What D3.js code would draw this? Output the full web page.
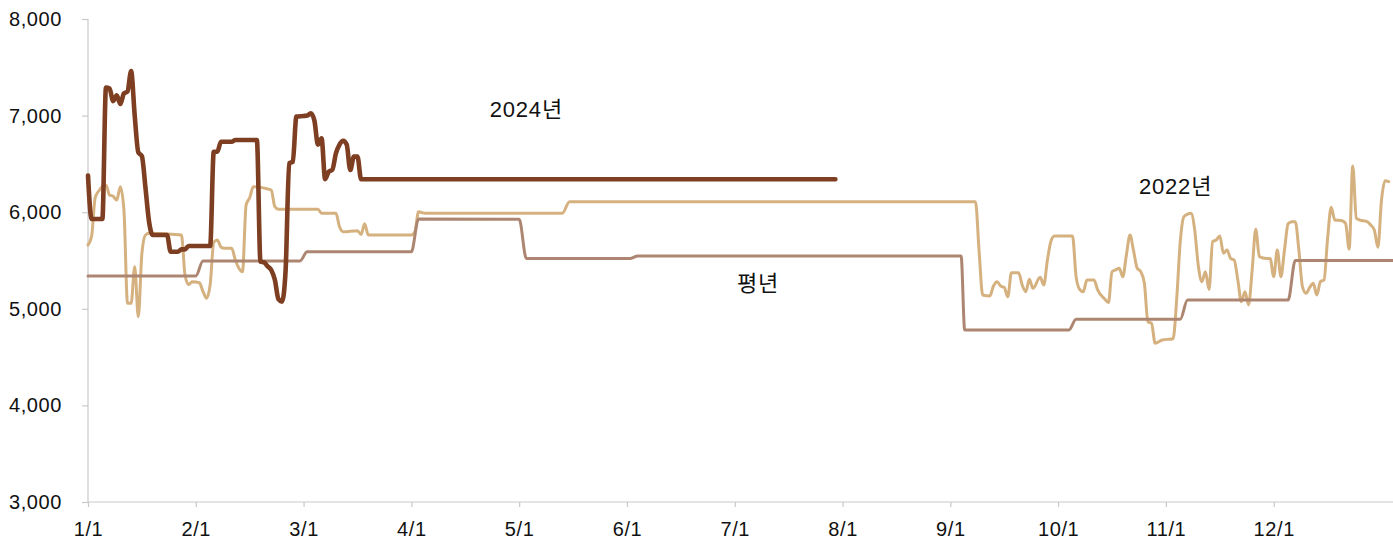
<!DOCTYPE html>
<html>
<head>
<meta charset="utf-8">
<script src="https://cdn.jsdelivr.net/npm/d3@7"></script>
<style>
  body { margin: 0; background: #fff; }
  text { font-family: "Liberation Sans", Arial, "Noto Sans CJK KR", sans-serif; }
</style>
</head>
<body>
<div id="chart"></div>
<script>
//Data (x = day index of the year, axis labels every 30 days)
var tickLabels = ["1/1", "2/1", "3/1", "4/1", "5/1", "6/1", "7/1", "8/1", "9/1", "10/1", "11/1", "12/1"];
var yTicks = [3000, 4000, 5000, 6000, 7000, 8000];
var seriesNames = ["2024년", "2022년", "평년"];

var days2024 = [0, 1, 4, 5, 6, 7, 8, 9, 10, 11, 12, 13, 14, 15, 16, 17, 18, 22, 23, 25, 26, 27, 28, 34, 35, 36, 37, 40, 41, 47,
  48, 49, 50, 51, 52, 53, 54, 55, 56, 57, 58, 60, 61, 62, 63, 64, 65, 66, 67, 68, 69, 70, 71, 72, 73, 74, 75, 76, 208];
var vals2024 = [6380, 5930, 5930, 7290, 7280, 7150, 7210, 7120, 7230, 7250, 7460, 7000, 6620, 6580, 6250, 5900, 5764, 5764, 5591, 5591, 5615, 5615, 5650, 5650, 6626, 6626, 6730, 6730, 6747, 6747,
  5488, 5480, 5440, 5402, 5300, 5100, 5074, 5400, 6506, 6523, 6990, 6996, 7000, 7024, 6950, 6700, 6765, 6341, 6419, 6440, 6609, 6700, 6740, 6700, 6437, 6575, 6575, 6341, 6341];

var days2022 = [0, 1, 2, 3, 5, 6, 7, 8, 9, 10, 11, 12, 13, 14, 15, 16, 17, 26, 27, 28, 29, 31, 32, 33, 34, 35, 36, 37, 38, 40,
  41, 42, 43, 44, 45, 46, 48, 50, 51, 52, 53, 64, 65, 69, 70, 71, 75, 76, 77, 78, 90, 91, 92, 93, 94, 132, 134, 247, 248, 249,
  251, 252, 253, 254, 255, 256, 257, 259, 260, 261, 262, 263, 265, 266, 267, 268, 269, 274, 275, 276, 277, 278, 280, 281, 283, 284, 285, 286, 287, 288,
  289, 290, 291, 292, 293, 294, 295, 296, 297, 299, 302, 303, 304, 305, 306, 307, 308, 309, 310, 311, 312, 313, 314, 315, 316, 317, 318, 319, 320, 321,
  322, 323, 324, 325, 326, 328, 329, 330, 331, 332, 333, 334, 335, 336, 337, 338, 339, 340, 341, 342, 343, 344, 345, 346, 347, 349, 350, 351, 352, 353,
  354, 356, 357, 358, 359, 360, 361, 362];
var vals2022 = [5660, 5750, 6150, 6220, 6281, 6178, 6165, 6126, 6264, 6023, 5057, 5057, 5436, 4918, 5574, 5764, 5781, 5764, 5350, 5250, 5281, 5270, 5180, 5109, 5250, 5690, 5712, 5640, 5626, 5626,
  5505, 5420, 5384, 6074, 6150, 6264, 6257, 6240, 6230, 6057, 6030, 6030, 5990, 5988, 5850, 5798, 5809, 5770, 5880, 5764, 5764, 5800, 6005, 5995, 5988, 5988, 6109, 6109, 5600, 5143,
  5133, 5236, 5281, 5236, 5222, 5125, 5374, 5374, 5246, 5177, 5305, 5212, 5326, 5246, 5500, 5700, 5754, 5754, 5333, 5200, 5177, 5298, 5298, 5195, 5100, 5064, 5384, 5402, 5419, 5333,
  5557, 5764, 5600, 5420, 5385, 5264, 4866, 4850, 4643, 4677, 4690, 5100, 5700, 5953, 5980, 5988, 5820, 5450, 5281, 5384, 5200, 5695, 5712, 5754, 5574, 5609, 5522, 5505, 5300, 5074,
  5177, 5040, 5400, 5823, 5540, 5522, 5522, 5333, 5609, 5333, 5609, 5880, 5902, 5902, 5609, 5229, 5160, 5220, 5264, 5143, 5281, 5298, 5729, 6050, 5919, 5912, 5885, 5619, 6478, 5937,
  5919, 5902, 5867, 5816, 5636, 6126, 6326, 6316];

var daysAvg = [0, 30, 32, 59, 61, 90, 92, 120, 122, 151, 153, 243, 244, 273, 275, 304, 306, 334, 336, 363];
var valsAvg = [5340, 5340, 5495, 5495, 5591, 5591, 5930, 5927, 5522, 5522, 5547, 5547, 4780, 4780, 4891, 4891, 5090, 5090, 5500, 5500];

//Set Margins
var margin = {top: 19, right: 0, bottom: 44, left: 88},
    width = 1393 - margin.left - margin.right,
    height = 546 - margin.top - margin.bottom;

var svg = d3.select("#chart")
  .append("svg")
    .attr("width", width + margin.left + margin.right)
    .attr("height", height + margin.top + margin.bottom)
  .append("g")
    .attr("transform", "translate(" + margin.left + "," + margin.top + ")");

//X Axis
var x = d3.scaleLinear()
  .domain([0, 363.2])
  .range([0, width]);
var xAxis = svg.append("g")
  .attr("transform", "translate(0," + height + ")")
  .call(d3.axisBottom(x)
    .tickValues(d3.range(tickLabels.length).map(function(i) { return i * 30; }))
    .tickFormat(function(d, i) { return tickLabels[i]; })
    .tickSize(5)
    .tickPadding(15));

//Y Axis
var y = d3.scaleLinear()
  .domain([3000, 8000])
  .range([height, 0]);
var yAxis = svg.append("g")
  .call(d3.axisLeft(y)
    .tickValues(yTicks)
    .tickFormat(d3.format(","))
    .tickSize(6)
    .tickPadding(20));

[xAxis, yAxis].forEach(function(a) {
  a.select(".domain").attr("stroke", "#c9c9c9").attr("stroke-width", 1.2);
  a.selectAll(".tick line").attr("stroke", "#c9c9c9").attr("stroke-width", 1.2);
  a.selectAll(".tick text").attr("fill", "#111").style("font-size", "20px").style("letter-spacing", "0.6px");
});
xAxis.select(".domain").attr("d", "M0,0H" + width);
yAxis.select(".domain").attr("d", "M0," + height + "V0");

//Lines
var line = d3.line()
  .x(function(d) { return x(d[0]); })
  .y(function(d) { return y(d[1]); })
  .curve(d3.curveMonotoneX);

function pairs(days, vals) {
  return days.map(function(d, i) { return [d, vals[i]]; });
}

var series = [
  {data: pairs(days2022, vals2022), color: "#d5b17f", w: 3},
  {data: pairs(daysAvg, valsAvg), color: "#ad8672", w: 3},
  {data: pairs(days2024, vals2024), color: "#7d3e22", w: 4.6}
];

series.forEach(function(s) {
  svg.append("path")
    .datum(s.data)
    .attr("fill", "none")
    .attr("stroke", s.color)
    .attr("stroke-width", s.w)
    .attr("stroke-linejoin", "round")
    .attr("stroke-linecap", "round")
    .attr("d", line);
});

//Series labels
var labelPos = [[122, 7060], [302.7, 6271], [186.5, 5267]];
labelPos.forEach(function(p, i) {
  svg.append("text")
    .attr("x", x(p[0]))
    .attr("y", y(p[1]))
    .attr("text-anchor", "middle")
    .attr("dominant-baseline", "central")
    .style("font-size", "22px")
    .style("letter-spacing", "0.8px")
    .attr("fill", "#111")
    .text(seriesNames[i]);
});
</script>
</body>
</html>
